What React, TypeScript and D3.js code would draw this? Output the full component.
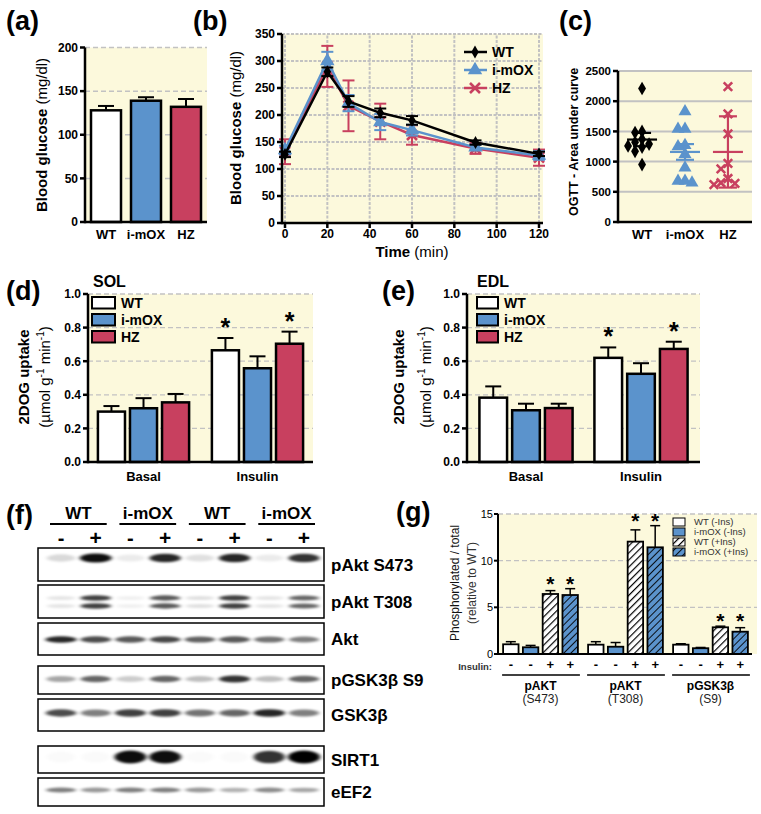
import React from 'react';
import * as d3 from 'd3';

const FONT = "'Liberation Sans', Arial, Helvetica, sans-serif";
const BG = '#fcf9dc';
const BLUE = '#5b93cc';
const RED = '#c8405f';
const GRID = '#c2c2c2';

// ---------- (a) fasting glucose ----------
const genotypes = ['WT', 'i-mOX', 'HZ'];
const genotypeFills = ['#ffffff', BLUE, RED];
const fastingGlucose = [128, 139, 132];
const fastingGlucoseErr = [5, 4, 9];
const glucoseTicks = [0, 50, 100, 150, 200];

// ---------- (b) OGTT ----------
const ogttTimes = [0, 20, 30, 45, 60, 90, 120];
const ogttWT = [127, 280, 225, 204, 190, 149, 128];
const ogttWTErr = [5, 8, 10, 8, 8, 4, 4];
const ogttOX = [135, 300, 222, 187, 172, 140, 125];
const ogttOXErr = [8, 17, 15, 15, 10, 5, 8];
const ogttHZ = [132, 290, 217, 188, 163, 138, 121];
const ogttHZErr = [23, 38, 47, 33, 18, 10, 15];
const ogttTicksX = [0, 20, 40, 60, 80, 100, 120];
const ogttTicksY = [0, 50, 100, 150, 200, 250, 300, 350];

// ---------- (c) OGTT AUC ----------
const aucWT = [2210, 1500, 1480, 1370, 1320, 1290, 1260, 1240, 1170, 950];
const aucOX = [1830, 1540, 1540, 1270, 1250, 1120, 900, 680, 650, 680];
const aucHZ = [2240, 1790, 1460, 970, 880, 720, 640, 620, 650];
const aucMean = [1365, 1160, 1160];
const aucErr = [110, 130, 590];
const aucTicks = [0, 500, 1000, 1500, 2000, 2500];

// ---------- (d)(e) 2DOG uptake ----------
const uptakeConditions = ['Basal', 'Insulin'];
const solWT = [0.3, 0.665];
const solWTErr = [0.033, 0.073];
const solOX = [0.32, 0.558];
const solOXErr = [0.06, 0.071];
const solHZ = [0.355, 0.704];
const solHZErr = [0.05, 0.072];
const edlWT = [0.383, 0.62];
const edlWTErr = [0.067, 0.062];
const edlOX = [0.308, 0.525];
const edlOXErr = [0.039, 0.063];
const edlHZ = [0.321, 0.673];
const edlHZErr = [0.026, 0.043];
const uptakeStarWT = [false, true];
const uptakeStarOX = [false, false];
const uptakeStarHZ = [false, true];
const uptakeTicks = [0, 0.2, 0.4, 0.6, 0.8, 1.0];

// ---------- (f) western blot ----------
const blotGroups = ['WT', 'i-mOX', 'WT', 'i-mOX'];
const blotLaneSigns = ['-', '+', '-', '+', '-', '+', '-', '+'];
const blotRowNames = ['pAkt S473', 'pAkt T308', 'Akt', 'pGSK3β S9', 'GSK3β', 'SIRT1', 'eEF2'];
const bandPAktS473 = [0.15, 0.95, 0.08, 0.85, 0.12, 0.85, 0.08, 0.8];
const bandPAktT308 = [0.1, 0.75, 0.06, 0.65, 0.12, 0.75, 0.1, 0.6];
const bandAkt = [0.85, 0.7, 0.65, 0.72, 0.62, 0.65, 0.55, 0.5];
const bandPGSK = [0.35, 0.6, 0.2, 0.6, 0.25, 0.8, 0.25, 0.6];
const bandGSK = [0.7, 0.5, 0.75, 0.75, 0.55, 0.6, 0.85, 0.5];
const bandSIRT1 = [0.02, 0.02, 0.95, 0.95, 0.02, 0.02, 0.8, 1.0];
const bandEEF2 = [0.5, 0.4, 0.5, 0.5, 0.4, 0.3, 0.45, 0.35];

// ---------- (g) quantification ----------
const phosphoTargets = ['pAKT', 'pAKT', 'pGSK3β'];
const phosphoSites = ['(S473)', '(T308)', '(S9)'];
const phosphoSeries = ['WT (-Ins)', 'i-mOX (-Ins)', 'WT (+Ins)', 'i-mOX (+Ins)'];
const phosphoInsulin = ['-', '-', '+', '+'];
const phosWTminus = [1.04, 1.0, 1.0];
const phosWTminusErr = [0.28, 0.32, 0.1];
const phosOXminus = [0.72, 0.78, 0.62];
const phosOXminusErr = [0.2, 0.45, 0.08];
const phosWTplus = [6.43, 12.04, 2.86];
const phosWTplusErr = [0.36, 1.26, 0.12];
const phosOXplus = [6.32, 11.43, 2.39];
const phosOXplusErr = [0.68, 2.32, 0.43];
const phosTicks = [0, 5, 10, 15];

// ---------- helpers ----------
function LeftAxis({ x, scale, ticks, fmt, size = 12, weight = 'bold', tick = 5, gap = 2, sw = 2.5 }: any) {
  const [r0, r1] = scale.range();
  return (
    <g>
      <line x1={x} x2={x} y1={r0 + sw / 2} y2={r1} stroke="#000" strokeWidth={sw} />
      {ticks.map((t: number) => (
        <g key={t}>
          <line x1={x - tick} x2={x} y1={scale(t)} y2={scale(t)} stroke="#000" strokeWidth={sw} />
          <text x={x - tick - gap} y={scale(t)} dy="0.36em" textAnchor="end" fontSize={size} fontWeight={weight}>
            {fmt ? fmt(t) : t}
          </text>
        </g>
      ))}
    </g>
  );
}

function PanelLabel({ x, y, text }: any) {
  return (
    <text x={x} y={y} fontSize={27} fontWeight="bold">{text}</text>
  );
}

function marker(kind: string, color: string, size: number) {
  if (kind === 'x') {
    const s = size / 2;
    return <path d={`M${-s},${-s}L${s},${s}M${-s},${s}L${s},${-s}`} stroke={color} strokeWidth={2.6} fill="none" />;
  }
  const sym = kind === 'diamond' ? d3.symbolDiamond : d3.symbolTriangle;
  const area = kind === 'diamond' ? size * size * 0.75 : size * size * 0.9;
  return <path d={d3.symbol(sym, area)() as string} fill={color} />;
}

function swarm(values: number[], y: (v: number) => number, cx: number, d: number) {
  const placed: number[][] = [];
  const order = values.map((_, i) => i).sort((a, b) => values[b] - values[a]);
  const xs = new Array(values.length);
  for (const i of order) {
    const py = y(values[i]);
    for (let k = 0; k < 30; k++) {
      const off = k === 0 ? 0 : (k % 2 ? -1 : 1) * Math.ceil(k / 2) * d;
      const px = cx + off;
      if (placed.every(p => Math.hypot(p[0] - px, p[1] - py) >= d)) {
        placed.push([px, py]);
        xs[i] = px;
        break;
      }
    }
  }
  return xs;
}

// ---------- panels ----------
function PanelA() {
  const x = d3.scaleBand().domain(genotypes).range([85, 207]).paddingInner(0.25).paddingOuter(0.15);
  const y = d3.scaleLinear().domain([0, 200]).range([222, 47.5]);
  return (
    <g>
      <PanelLabel x={6} y={30} text="(a)" />
      <rect x={85} y={y(200)} width={122} height={y(0) - y(200)} fill={BG} />
      {glucoseTicks.filter(t => t > 0).map(t => (
        <line key={t} x1={85} x2={207} y1={y(t)} y2={y(t)} stroke={GRID} strokeWidth={1.5} strokeDasharray="5,3" />
      ))}
      {genotypes.map((g, i) => {
        const cx = (x(g) as number) + x.bandwidth() / 2;
        const v = fastingGlucose[i];
        const e = fastingGlucoseErr[i];
        return (
          <g key={g}>
            <line x1={cx} x2={cx} y1={y(v)} y2={y(v + e)} stroke="#000" strokeWidth={2} />
            <line x1={cx - 8} x2={cx + 8} y1={y(v + e)} y2={y(v + e)} stroke="#000" strokeWidth={2} />
            <rect x={x(g)} y={y(v)} width={x.bandwidth()} height={y(0) - y(v)} fill={genotypeFills[i]} stroke="#000" strokeWidth={2.5} />
            <text x={cx} y={239} textAnchor="middle" fontSize={13} fontWeight="bold">{g}</text>
          </g>
        );
      })}
      <line x1={85} x2={207} y1={y(0)} y2={y(0)} stroke="#000" strokeWidth={2.5} />
      <LeftAxis x={85} scale={y} ticks={glucoseTicks} />
      <text transform="translate(47,135) rotate(-90)" textAnchor="middle" fontSize={15}>
        <tspan fontWeight="bold">Blood glucose</tspan><tspan> (mg/dl)</tspan>
      </text>
    </g>
  );
}

function PanelB() {
  const x = d3.scaleLinear().domain([0, 120]).range([285, 539]);
  const y = d3.scaleLinear().domain([0, 350]).range([223, 34]);
  const series = [
    { name: 'HZ', values: ogttHZ, err: ogttHZErr, color: RED, mk: 'x' },
    { name: 'i-mOX', values: ogttOX, err: ogttOXErr, color: BLUE, mk: 'triangle' },
    { name: 'WT', values: ogttWT, err: ogttWTErr, color: '#000', mk: 'diamond' },
  ];
  const line = d3.line<number>().x((_, i) => x(ogttTimes[i])).y(v => y(v));
  const legend = [...series].reverse();
  return (
    <g>
      <PanelLabel x={193} y={30} text="(b)" />
      <rect x={282} y={y(350)} width={261} height={y(0) - y(350)} fill={BG} />
      {ogttTicksY.filter(t => t > 0).map(t => (
        <line key={'h' + t} x1={282} x2={543} y1={y(t)} y2={y(t)} stroke={GRID} strokeWidth={2} strokeDasharray="3,1.5" />
      ))}
      {ogttTicksX.map(t => (
        <line key={'v' + t} x1={x(t)} x2={x(t)} y1={y(0)} y2={y(350)} stroke={GRID} strokeWidth={2} strokeDasharray="3,1.5" />
      ))}
      {series.map(s => (
        <g key={s.name}>
          <path d={line(s.values) as string} fill="none" stroke={s.color} strokeWidth={2.5} />
          {s.values.map((v, i) => {
            const cx = x(ogttTimes[i]);
            return (
              <g key={i}>
                <line x1={cx} x2={cx} y1={y(v - s.err[i])} y2={y(v + s.err[i])} stroke={s.color} strokeWidth={2} />
                <line x1={cx - 6} x2={cx + 6} y1={y(v - s.err[i])} y2={y(v - s.err[i])} stroke={s.color} strokeWidth={2} />
                <line x1={cx - 6} x2={cx + 6} y1={y(v + s.err[i])} y2={y(v + s.err[i])} stroke={s.color} strokeWidth={2} />
                <g transform={`translate(${cx},${y(v)})`}>{marker(s.mk, s.color, s.mk === 'diamond' ? 8 : 10)}</g>
              </g>
            );
          })}
        </g>
      ))}
      <line x1={282} x2={543} y1={y(0)} y2={y(0)} stroke="#000" strokeWidth={2.5} />
      {ogttTicksX.map(t => (
        <g key={'xt' + t}>
          <line x1={x(t)} x2={x(t)} y1={y(0)} y2={y(0) + 5} stroke="#000" strokeWidth={2.5} />
          <text x={x(t)} y={238} textAnchor="middle" fontSize={12} fontWeight="bold">{t}</text>
        </g>
      ))}
      <LeftAxis x={282} scale={y} ticks={ogttTicksY} />
      {legend.map((s, i) => (
        <g key={'lg' + s.name} transform={`translate(0,${52 + i * 18})`}>
          <line x1={464} x2={487} y1={0} y2={0} stroke={s.color} strokeWidth={2.5} />
          <g transform="translate(475,0)">{marker(s.mk, s.color, s.mk === 'diamond' ? 8 : 10)}</g>
          <text x={492} y={0} dy="0.36em" fontSize={14} fontWeight="bold">{s.name}</text>
        </g>
      ))}
      <text transform="translate(241,128) rotate(-90)" textAnchor="middle" fontSize={15}>
        <tspan fontWeight="bold">Blood glucose</tspan><tspan> (mg/dl)</tspan>
      </text>
      <text x={412} y={257} textAnchor="middle" fontSize={15}>
        <tspan fontWeight="bold">Time</tspan><tspan> (min)</tspan>
      </text>
    </g>
  );
}

function PanelC() {
  const x = d3.scalePoint().domain(genotypes).range([618, 752]).padding(0.56);
  const y = d3.scaleLinear().domain([0, 2500]).range([222, 71]);
  const groups = [
    { vals: aucWT, color: '#000', mk: 'diamond', size: 8.5 },
    { vals: aucOX, color: BLUE, mk: 'triangle', size: 9 },
    { vals: aucHZ, color: RED, mk: 'x', size: 8.5 },
  ];
  return (
    <g>
      <PanelLabel x={559} y={30} text="(c)" />
      <rect x={618} y={y(2500)} width={134} height={y(0) - y(2500)} fill={BG} />
      {aucTicks.filter(t => t > 0).map(t => (
        <line key={t} x1={618} x2={752} y1={y(t)} y2={y(t)} stroke={GRID} strokeWidth={2} />
      ))}
      {genotypes.map((g, gi) => {
        const cx = x(g) as number;
        const gr = groups[gi];
        const xs = swarm(gr.vals, y, cx, 7);
        const m = aucMean[gi];
        const e = aucErr[gi];
        return (
          <g key={g}>
            {gr.vals.map((v, i) => (
              <g key={i} transform={`translate(${xs[i]},${y(v)})`}>{marker(gr.mk, gr.color, gr.size)}</g>
            ))}
            <line x1={cx} x2={cx} y1={y(m - e)} y2={y(m + e)} stroke={gr.color} strokeWidth={2.2} />
            <line x1={cx - 9} x2={cx + 9} y1={y(m - e)} y2={y(m - e)} stroke={gr.color} strokeWidth={2.2} />
            <line x1={cx - 9} x2={cx + 9} y1={y(m + e)} y2={y(m + e)} stroke={gr.color} strokeWidth={2.2} />
            <line x1={cx - 15} x2={cx + 15} y1={y(m)} y2={y(m)} stroke={gr.color} strokeWidth={2.2} />
            <text x={cx} y={239} textAnchor="middle" fontSize={13} fontWeight="bold">{g}</text>
          </g>
        );
      })}
      <line x1={618} x2={752} y1={y(0)} y2={y(0)} stroke="#000" strokeWidth={2.5} />
      <LeftAxis x={618} scale={y} ticks={aucTicks} size={11.5} />
      <text transform="translate(578,142) rotate(-90)" textAnchor="middle" fontSize={12.5} fontWeight="bold">
        OGTT - Area under curve
      </text>
    </g>
  );
}

function UptakePanel({ label, title, ax, right, wt, wtE, ox, oxE, hz, hzE, pi, po, titleX1, titleX2, legendX, legendW }: any) {
  const x0 = d3.scaleBand().domain(uptakeConditions).range([ax, right]).paddingInner(pi).paddingOuter(po);
  const x1 = d3.scaleBand().domain(genotypes).range([0, x0.bandwidth()]).paddingInner(0.156);
  const y = d3.scaleLinear().domain([0, 1]).range([462, 294]);
  const series = [
    { v: wt, e: wtE, fill: '#fff', star: uptakeStarWT },
    { v: ox, e: oxE, fill: BLUE, star: uptakeStarOX },
    { v: hz, e: hzE, fill: RED, star: uptakeStarHZ },
  ];
  return (
    <g>
      <PanelLabel x={label[1]} y={300} text={label[0]} />
      <text x={title[1]} y={287} fontSize={16} fontWeight="bold">{title[0]}</text>
      <rect x={ax} y={y(1)} width={right - ax} height={y(0) - y(1)} fill={BG} />
      {uptakeTicks.filter(t => t > 0).map(t => (
        <line key={t} x1={ax} x2={right} y1={y(t)} y2={y(t)} stroke={GRID} strokeWidth={1.3} strokeDasharray="5,3" />
      ))}
      {uptakeConditions.map((c, ci) => (
        <g key={c}>
          {genotypes.map((g, gi) => {
            const s = series[gi];
            const bx = (x0(c) as number) + (x1(g) as number);
            const cx = bx + x1.bandwidth() / 2;
            const v = s.v[ci];
            const top = y(v + s.e[ci]);
            return (
              <g key={g}>
                <line x1={cx} x2={cx} y1={y(v)} y2={top} stroke="#000" strokeWidth={2} />
                <line x1={cx - 8} x2={cx + 8} y1={top} y2={top} stroke="#000" strokeWidth={2} />
                <rect x={bx} y={y(v)} width={x1.bandwidth()} height={y(0) - y(v)} fill={s.fill} stroke="#000" strokeWidth={2.5} />
                {s.star[ci] && (
                  <text x={cx} y={top - 2} textAnchor="middle" fontSize={25} fontWeight="bold">*</text>
                )}
              </g>
            );
          })}
          <text x={(x0(c) as number) + x0.bandwidth() / 2} y={481} textAnchor="middle" fontSize={13} fontWeight="bold">{c}</text>
        </g>
      ))}
      <line x1={ax} x2={right} y1={y(0)} y2={y(0)} stroke="#000" strokeWidth={2.5} />
      <LeftAxis x={ax} scale={y} ticks={uptakeTicks} fmt={(t: number) => t.toFixed(1)} />
      {genotypes.map((g, i) => (
        <g key={'lg' + g}>
          <rect x={legendX} y={297 + i * 17} width={legendW} height={11.5} fill={series[i].fill} stroke="#000" strokeWidth={2} />
          <text x={legendX + legendW + 6} y={297 + i * 17 + 5.75} dy="0.36em" fontSize={14} fontWeight="bold">{g}</text>
        </g>
      ))}
      <text transform={`translate(${titleX1},377) rotate(-90)`} textAnchor="middle" fontSize={15} fontWeight="bold">2DOG uptake</text>
      <text transform={`translate(${titleX2},377) rotate(-90)`} textAnchor="middle" fontSize={15}>
        <tspan>(µmol g</tspan><tspan fontSize={10} dy={-6}>-1</tspan><tspan dy={6}> min</tspan><tspan fontSize={10} dy={-6}>-1</tspan><tspan dy={6}>)</tspan>
      </text>
    </g>
  );
}

function PanelF() {
  const lanes = d3.range(8);
  const lx = d3.scalePoint<number>().domain(lanes).range([61, 304]);
  const rows = [
    { name: blotRowNames[0], data: bandPAktS473, top: 548, bottom: 581, bands: [{ dy: -6.5, h: 7 }] },
    { name: blotRowNames[1], data: bandPAktT308, top: 585, bottom: 618, bands: [{ dy: -3.5, h: 4 }, { dy: 4.5, h: 4 }] },
    { name: blotRowNames[2], data: bandAkt, top: 623, bottom: 655, bands: [{ dy: 0.5, h: 5 }] },
    { name: blotRowNames[3], data: bandPGSK, top: 666, bottom: 694, bands: [{ dy: -1, h: 5.5 }] },
    { name: blotRowNames[4], data: bandGSK, top: 699, bottom: 731, bands: [{ dy: -2, h: 6 }] },
    { name: blotRowNames[5], data: bandSIRT1, top: 746, bottom: 773, bands: [{ dy: -2.5, h: 11 }] },
    { name: blotRowNames[6], data: bandEEF2, top: 778, bottom: 806, bands: [{ dy: -2, h: 4 }] },
  ];
  return (
    <g>
      <PanelLabel x={6} y={524} text="(f)" />
      {blotGroups.map((g, gi) => {
        const a = lx(gi * 2) as number;
        const b = lx(gi * 2 + 1) as number;
        return (
          <g key={gi}>
            <text x={(a + b) / 2} y={519} textAnchor="middle" fontSize={17} fontWeight="bold">{g}</text>
            <line x1={a - 11} x2={b + 11} y1={524} y2={524} stroke="#000" strokeWidth={2} />
          </g>
        );
      })}
      {blotLaneSigns.map((s, i) => (
        <text key={i} x={lx(i)} y={545} textAnchor="middle" fontSize={s === '+' ? 21 : 20} fontWeight="bold">{s}</text>
      ))}
      {rows.map(r => {
        const cy = (r.top + r.bottom) / 2;
        return (
          <g key={r.name}>
            <rect x={38} y={r.top} width={286} height={r.bottom - r.top} fill="#fff" stroke="#000" strokeWidth={1.5} />
            <g filter="url(#blur)">
              {r.data.map((v, i) =>
                r.bands.map((b, bi) => (
                  <ellipse key={i + '-' + bi} cx={lx(i)} cy={cy + b.dy} rx={14 + v * 2} ry={b.h / 2 + v * 1}
                    fill="#000" fillOpacity={Math.min(1, v)} />
                ))
              )}
            </g>
            <text x={331} y={cy} dy="0.36em" fontSize={17} fontWeight="bold">{r.name}</text>
          </g>
        );
      })}
    </g>
  );
}

function PanelG() {
  const x0 = d3.scaleBand<number>().domain([0, 1, 2]).range([498, 753]).paddingInner(0.12).paddingOuter(0.06);
  const x1 = d3.scaleBand<number>().domain([0, 1, 2, 3]).range([0, x0.bandwidth()]).paddingInner(0.22);
  const y = d3.scaleLinear().domain([0, 15]).range([654, 514]);
  const fills = ['#fff', BLUE, 'url(#hatchW)', 'url(#hatchB)'];
  const vals = [phosWTminus, phosOXminus, phosWTplus, phosOXplus];
  const errs = [phosWTminusErr, phosOXminusErr, phosWTplusErr, phosOXplusErr];
  return (
    <g>
      <PanelLabel x={396} y={521} text="(g)" />
      <rect x={498} y={y(15)} width={259} height={y(0) - y(15)} fill={BG} />
      {phosTicks.filter(t => t > 0).map(t => (
        <line key={t} x1={498} x2={757} y1={y(t)} y2={y(t)} stroke={GRID} strokeWidth={1.3} strokeDasharray="5,3" />
      ))}
      {phosphoTargets.map((tg, gi) => {
        const gx = x0(gi) as number;
        const plusTops = [2, 3].map(si => y(vals[si][gi] + errs[si][gi]));
        const starY = Math.min(...plusTops) + 2;
        return (
          <g key={gi}>
            {phosphoSeries.map((_, si) => {
              const bx = gx + (x1(si) as number);
              const cx = bx + x1.bandwidth() / 2;
              const v = vals[si][gi];
              const top = y(v + errs[si][gi]);
              return (
                <g key={si}>
                  <line x1={cx} x2={cx} y1={y(v)} y2={top} stroke="#000" strokeWidth={1.5} />
                  <line x1={cx - 5} x2={cx + 5} y1={top} y2={top} stroke="#000" strokeWidth={1.5} />
                  <rect x={bx} y={y(v)} width={x1.bandwidth()} height={y(0) - y(v)} fill={fills[si]} stroke="#000" strokeWidth={1.8} />
                  {phosphoInsulin[si] === '+' && (
                    <text x={cx} y={starY} textAnchor="middle" fontSize={21} fontWeight="bold">*</text>
                  )}
                  <text x={cx} y={669} textAnchor="middle" fontSize={13} fontWeight="bold">{phosphoInsulin[si]}</text>
                </g>
              );
            })}
            <line x1={gx - 1} x2={gx + x0.bandwidth() + 2} y1={675} y2={675} stroke="#000" strokeWidth={1.5} />
            <text x={gx + x0.bandwidth() / 2} y={690} textAnchor="middle" fontSize={12} fontWeight="bold">{tg}</text>
            <text x={gx + x0.bandwidth() / 2} y={703} textAnchor="middle" fontSize={12} fill="#222">{phosphoSites[gi]}</text>
          </g>
        );
      })}
      <text x={492} y={670} textAnchor="end" fontSize={9.5} fontWeight="bold" fill="#333">Insulin:</text>
      <line x1={498} x2={752} y1={y(0)} y2={y(0)} stroke="#000" strokeWidth={2} />
      <LeftAxis x={498} scale={y} ticks={phosTicks} size={11} weight="normal" tick={4} gap={1} sw={2} />
      {phosphoSeries.map((s, i) => (
        <g key={s}>
          <rect x={673} y={518 + i * 10} width={12} height={8} fill={fills[i]} stroke="#000" strokeWidth={1} />
          <text x={694} y={522 + i * 10} dy="0.34em" fontSize={9.5} fill="#333">{s}</text>
        </g>
      ))}
      <text transform="translate(459,583) rotate(-90)" textAnchor="middle" fontSize={12} fill="#111">Phosphorylated / total</text>
      <text transform="translate(476,583) rotate(-90)" textAnchor="middle" fontSize={12} fill="#333">(relative to WT)</text>
    </g>
  );
}

export default function App() {
  return (
    <svg width={761} height={814} viewBox="0 0 761 814"
      style={{ position: 'absolute', left: 0, top: 0, background: '#fff' }} fontFamily={FONT}>
      <defs>
        <filter id="blur" x="-20%" y="-100%" width="140%" height="300%">
          <feGaussianBlur stdDeviation="2.2 1.3" />
        </filter>
        <pattern id="hatchW" patternUnits="userSpaceOnUse" width="5" height="5" patternTransform="rotate(45)">
          <rect width="5" height="5" fill="#fff" />
          <line x1="0" y1="0" x2="0" y2="5" stroke="#000" strokeWidth="2.4" />
        </pattern>
        <pattern id="hatchB" patternUnits="userSpaceOnUse" width="5" height="5" patternTransform="rotate(45)">
          <rect width="5" height="5" fill={BLUE} />
          <line x1="0" y1="0" x2="0" y2="5" stroke="#000" strokeWidth="1.8" />
        </pattern>
      </defs>
      <rect width={761} height={814} fill="#fff" />
      <PanelA />
      <PanelB />
      <PanelC />
      <UptakePanel label={['(d)', 6]} title={['SOL', 93]} ax={88} right={313}
        wt={solWT} wtE={solWTErr} ox={solOX} oxE={solOXErr} hz={solHZ} hzE={solHZErr}
        pi={0.2} po={0.087} titleX1={29} titleX2={50} legendX={92} legendW={23} />
      <UptakePanel label={['(e)', 382]} title={['EDL', 477]} ax={467} right={700}
        wt={edlWT} wtE={edlWTErr} ox={edlOX} oxE={edlOXErr} hz={edlHZ} hzE={edlHZErr}
        pi={0.19} po={0.108} titleX1={404} titleX2={431} legendX={477} legendW={21} />
      <PanelF />
      <PanelG />
    </svg>
  );
}
